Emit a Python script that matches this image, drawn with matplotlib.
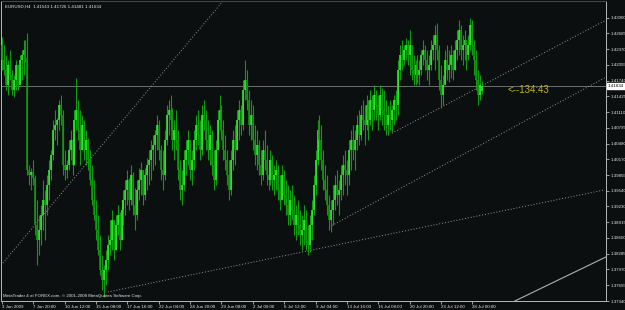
import matplotlib
matplotlib.use('Agg')
import matplotlib.pyplot as plt

plt.rcParams['font.family'] = ['Liberation Sans', 'DejaVu Sans']

# EURUSD H4 bars, prices in 1e-4 units (pips)
OPEN = [14245, 14215, 14195, 14165, 14205, 14185, 14155, 14175, 14205, 14165,
        14215, 14225, 14235, 14219, 13995, 13985, 13991, 13979, 13885, 13855,
        13875, 13905, 13935, 13925, 13965, 13995, 14025, 14075, 14085, 14095,
        14125, 14105, 14005, 13995, 14005, 14035, 14055, 14005, 14095, 14115,
        14075, 14035, 14085, 14035, 14055, 14015, 13975, 13935, 13905, 13875,
        13835, 13795, 13775, 13795, 13815, 13845, 13855, 13895, 13835, 13885,
        13905, 13855, 13915, 13935, 13955, 13975, 13935, 13985, 13925, 13905,
        13955, 13975, 13995, 13945, 13985, 14005, 14015, 14035, 14045, 14065,
        14085, 14035, 13995, 13985, 14055, 14105, 14115, 14095, 14055, 14075,
        14055, 13995, 13955, 13965, 14015, 14035, 14055, 13995, 14015, 14055,
        14085, 14065, 14035, 14105, 14095, 14055, 14035, 14065, 14005, 13975,
        14035, 14095, 14115, 14075, 14035, 14015, 13985, 13955, 14015, 14055,
        14035, 14095, 14115, 14085, 14155, 14175, 14135, 14085, 14105, 14055,
        14025, 14045, 14005, 13985, 14035, 14015, 13985, 13975, 14015, 13975,
        13985, 13995, 13955, 13935, 13985, 13945, 13925, 13905, 13935, 13915,
        13885, 13905, 13885, 13865, 13875, 13895, 13855, 13845, 13885, 13915,
        13965, 14015, 14075, 14055, 14015, 13975, 13955, 13925, 13895, 13915,
        13935, 13965, 13945, 13955, 13985, 14005, 13995, 13985, 14035, 14055,
        14035, 14055, 14085, 14065, 14105, 14095, 14085, 14125, 14095, 14135,
        14115, 14145, 14125, 14105, 14145, 14115, 14105, 14085, 14105, 14095,
        14115, 14135, 14125, 14195, 14225, 14215, 14235, 14245, 14225, 14245,
        14195, 14185, 14205, 14185, 14195, 14225, 14235, 14215, 14195, 14205,
        14235, 14245, 14265, 14235, 14175, 14145, 14165, 14215, 14195, 14205,
        14225, 14195, 14235, 14255, 14275, 14235, 14245, 14255, 14225, 14245,
        14285, 14245, 14215, 14175, 14145, 14154]
HIGH = [14261, 14245, 14225, 14215, 14235, 14195, 14185, 14215, 14205, 14225,
        14235, 14255, 14255, 14269, 14005, 13999, 14015, 13985, 13935, 13905,
        13925, 13975, 13955, 13985, 14015, 14035, 14095, 14115, 14099, 14135,
        14145, 14115, 14035, 14015, 14055, 14075, 14059, 14115, 14179, 14135,
        14115, 14105, 14095, 14075, 14059, 14035, 14005, 13975, 13935, 13905,
        13865, 13825, 13805, 13835, 13865, 13895, 13915, 13895, 13905, 13925,
        13911, 13935, 13955, 13975, 13995, 13979, 14005, 13991, 13959, 13975,
        13999, 14011, 13995, 13999, 14019, 14035, 14055, 14065, 14075, 14105,
        14095, 14045, 14035, 14075, 14125, 14135, 14145, 14119, 14095, 14115,
        14075, 14015, 13995, 14035, 14055, 14075, 14055, 14035, 14075, 14105,
        14115, 14095, 14125, 14135, 14115, 14095, 14085, 14075, 14035, 14055,
        14115, 14145, 14125, 14095, 14065, 14035, 14015, 14035, 14075, 14085,
        14115, 14135, 14125, 14175, 14215, 14195, 14155, 14135, 14125, 14085,
        14075, 14055, 14035, 14055, 14075, 14045, 14015, 14035, 14025, 14005,
        14015, 14005, 13985, 14005, 13995, 13975, 13965, 13955, 13965, 13945,
        13925, 13935, 13915, 13905, 13925, 13915, 13885, 13905, 13935, 13985,
        14035, 14095, 14105, 14085, 14035, 14005, 13985, 13945, 13935, 13965,
        13985, 13995, 13975, 14005, 14025, 14035, 14015, 14055, 14075, 14085,
        14075, 14105, 14115, 14125, 14135, 14125, 14145, 14135, 14155, 14145,
        14165, 14155, 14145, 14165, 14159, 14155, 14135, 14125, 14135, 14125,
        14145, 14155, 14215, 14245, 14255, 14245, 14259, 14255, 14275, 14245,
        14225, 14215, 14225, 14215, 14235, 14255, 14245, 14235, 14225, 14255,
        14265, 14285, 14289, 14245, 14205, 14185, 14235, 14245, 14235, 14245,
        14235, 14255, 14275, 14295, 14285, 14265, 14275, 14255, 14265, 14299,
        14295, 14255, 14235, 14195, 14185, 14173]
LOW = [14195, 14185, 14155, 14145, 14175, 14145, 14141, 14155, 14155, 14165,
       14175, 14185, 14211, 13985, 13965, 13955, 13965, 13865, 13805, 13825,
       13845, 13875, 13855, 13905, 13935, 13975, 14015, 14055, 14045, 14075,
       14085, 13985, 13975, 13979, 13995, 14015, 13985, 14005, 14075, 14055,
       14005, 14035, 14015, 14005, 13995, 13965, 13925, 13895, 13855, 13825,
       13785, 13755, 13741, 13765, 13795, 13825, 13835, 13815, 13835, 13865,
       13835, 13855, 13885, 13905, 13925, 13915, 13925, 13905, 13875, 13895,
       13935, 13945, 13925, 13935, 13955, 13965, 13975, 13995, 14005, 14035,
       14015, 13975, 13955, 13975, 14045, 14065, 14075, 14035, 14015, 14035,
       13975, 13935, 13925, 13955, 13985, 14005, 13975, 13965, 13995, 14035,
       14045, 14015, 14025, 14075, 14035, 14015, 14005, 13985, 13955, 13965,
       14035, 14075, 14055, 14015, 13995, 13965, 13935, 13945, 13995, 14005,
       14035, 14055, 14065, 14075, 14135, 14115, 14065, 14055, 14035, 14005,
       13995, 13985, 13965, 13975, 13995, 13965, 13955, 13965, 13955, 13945,
       13955, 13935, 13915, 13935, 13925, 13905, 13885, 13885, 13895, 13865,
       13855, 13865, 13845, 13835, 13845, 13835, 13825, 13831, 13855, 13905,
       13945, 14005, 14035, 13995, 13955, 13935, 13905, 13875, 13871, 13885,
       13915, 13925, 13905, 13935, 13945, 13965, 13945, 13965, 13995, 14015,
       13995, 14035, 14045, 14055, 14075, 14045, 14075, 14055, 14085, 14075,
       14095, 14095, 14075, 14095, 14085, 14075, 14065, 14065, 14075, 14071,
       14085, 14095, 14105, 14175, 14195, 14205, 14215, 14205, 14185, 14175,
       14165, 14165, 14169, 14165, 14185, 14205, 14195, 14175, 14165, 14195,
       14215, 14195, 14215, 14155, 14119, 14125, 14165, 14175, 14171, 14179,
       14175, 14195, 14215, 14225, 14215, 14205, 14215, 14195, 14215, 14235,
       14225, 14185, 14155, 14125, 14135, 14148]
CLOSE = [14215, 14195, 14165, 14205, 14185, 14155, 14175, 14205, 14165, 14215,
         14225, 14235, 14219, 13995, 13985, 13991, 13979, 13885, 13855, 13875,
         13905, 13935, 13925, 13965, 13995, 14025, 14075, 14085, 14095, 14125,
         14105, 14005, 13995, 14005, 14035, 14055, 14005, 14095, 14115, 14075,
         14035, 14085, 14035, 14055, 14015, 13975, 13935, 13905, 13875, 13835,
         13795, 13775, 13795, 13815, 13845, 13855, 13895, 13835, 13885, 13905,
         13855, 13915, 13935, 13955, 13975, 13935, 13985, 13925, 13905, 13955,
         13975, 13995, 13945, 13985, 14005, 14015, 14035, 14045, 14065, 14085,
         14035, 13995, 13985, 14055, 14105, 14115, 14095, 14055, 14075, 14055,
         13995, 13955, 13965, 14015, 14035, 14055, 13995, 14015, 14055, 14085,
         14065, 14035, 14105, 14095, 14055, 14035, 14065, 14005, 13975, 14035,
         14095, 14115, 14075, 14035, 14015, 13985, 13955, 14015, 14055, 14035,
         14095, 14115, 14085, 14155, 14175, 14135, 14085, 14105, 14055, 14025,
         14045, 14005, 13985, 14035, 14015, 13985, 13975, 14015, 13975, 13985,
         13995, 13955, 13935, 13985, 13945, 13925, 13905, 13935, 13915, 13885,
         13905, 13885, 13865, 13875, 13895, 13855, 13845, 13885, 13915, 13965,
         14015, 14075, 14055, 14015, 13975, 13955, 13925, 13895, 13915, 13935,
         13965, 13945, 13955, 13985, 14005, 13995, 13985, 14035, 14055, 14035,
         14055, 14085, 14065, 14105, 14095, 14085, 14125, 14095, 14135, 14115,
         14145, 14125, 14105, 14145, 14115, 14105, 14085, 14105, 14095, 14115,
         14135, 14125, 14195, 14225, 14215, 14235, 14245, 14225, 14245, 14195,
         14185, 14205, 14185, 14195, 14225, 14235, 14215, 14195, 14205, 14235,
         14245, 14265, 14235, 14175, 14145, 14165, 14215, 14195, 14205, 14225,
         14195, 14235, 14255, 14275, 14235, 14245, 14255, 14225, 14245, 14285,
         14245, 14215, 14175, 14145, 14165, 14163]

TIME_TICKS = [0, 16, 32, 48, 64, 80, 96, 112, 128, 144, 160, 176, 192, 208, 224, 240]
TIME_LABELS = ['3 Jun 2009', '7 Jun 20:00', '10 Jun 12:00', '15 Jun 08:00',
               '17 Jun 16:00', '22 Jun 04:00', '24 Jun 20:00', '29 Jun 08:00',
               '2 Jul 00:00', '6 Jul 12:00', '9 Jul 04:00', '13 Jul 16:00',
               '16 Jul 08:00', '20 Jul 20:00', '23 Jul 12:00', '28 Jul 00:00']
PRICE_TICKS = [1.43000, 1.42685, 1.42370, 1.42055, 1.41740, 1.41425, 1.41110,
               1.40795, 1.40480, 1.40170, 1.39855, 1.39540, 1.39230, 1.38915,
               1.38600, 1.38285, 1.37970, 1.37655, 1.37340]
BID = 1.41634
TITLE = 'EURUSD,H4  1.41543 1.41726 1.41481 1.41634'
TIMER = '<--134:43'
COPYRIGHT = 'MetaTrader 4 at FOREX.com, \u00a9 2001-2008 MetaQuotes Software Corp.'

# trendlines: (bar, price) pairs
DOTTED_LINES = [((0.5, 1.3810), (99.5, 1.4271)),
                ((54.0, 1.3752), (307.7, 1.3956)),
                ((167.0, 1.3882), (308.2, 1.4181)),
                ((199.0, 1.4069), (308.2, 1.4295))]
DOTTED_RAY = [False, True, True, True]
SOLID_LINE = ((261.7, 1.3734), (308.2, 1.3822))

BG = '#0b0f0f'
FRAME = '#b8b8b8'
TXT = '#e8e8e8'
BULL = '#33f233'
BEAR = '#109a10'
FS = 3.2

fig = plt.figure(figsize=(6.25, 3.1), dpi=100, facecolor=BG)
ax = fig.add_axes([1 / 625, 9 / 310, 605 / 625, 300 / 310], facecolor=BG)

x = list(range(len(CLOSE)))
o = [v / 1e4 for v in OPEN]
h = [v / 1e4 for v in HIGH]
l = [v / 1e4 for v in LOW]
c = [v / 1e4 for v in CLOSE]
cols = [BULL if cc >= oo else BEAR for oo, cc in zip(o, c)]
ax.vlines(x, l, h, colors=BEAR, linewidth=0.8, zorder=3)
ax.vlines(x, [min(a, b) for a, b in zip(o, c)], [max(a, b) for a, b in zip(o, c)],
          colors=cols, linewidth=1.15, zorder=4)

ax.axhline(BID, color='#6e6e6e', linewidth=0.7, zorder=2)

for (p0, p1), ray in zip(DOTTED_LINES, DOTTED_RAY):
    if ray:
        ax.plot([p0[0], p1[0]], [p0[1], p1[1]], color='#9a9a9a',
                linestyle=(0, (1, 2)), linewidth=0.7, zorder=2)
    else:
        ax.axline(p0, p1, color='#9a9a9a', linestyle=(0, (1, 2)), linewidth=0.7, zorder=2)
ax.plot([SOLID_LINE[0][0], SOLID_LINE[1][0]], [SOLID_LINE[0][1], SOLID_LINE[1][1]],
        color='#b0b0b0', linewidth=0.8, zorder=2)

ax.set_xlim(-0.5, 308.2)
ax.set_ylim(1.37340, 1.43330)

ax.yaxis.tick_right()
ax.set_yticks(PRICE_TICKS)
ax.set_yticklabels([f'{p:.5f}' for p in PRICE_TICKS], fontsize=FS, color=TXT)
ax.tick_params(axis='y', length=2, width=0.6, color=FRAME, pad=1)
ax.set_xticks(TIME_TICKS)
ax.set_xticklabels(TIME_LABELS, fontsize=FS, color=TXT, ha='left')
ax.tick_params(axis='x', length=2, width=0.6, color=FRAME, pad=0.8)
for s in ax.spines.values():
    s.set_color(FRAME)
    s.set_linewidth(0.7)
ax.spines['top'].set_color('#4a4a4a')

# current price marker on the scale
ax.text(1.003, BID, f'{BID:.5f}', transform=ax.get_yaxis_transform(), fontsize=FS,
        color='black', va='center', ha='left',
        bbox=dict(boxstyle='square,pad=0.25', facecolor='white', edgecolor='white'))

ax.text(258, BID - 0.0008, TIMER, fontsize=7, color='#c8b41e', va='center', ha='left')
ax.text(0.006, 0.988, TITLE, transform=ax.transAxes, fontsize=FS, color=TXT, va='top')
ax.text(0.004, 0.01, COPYRIGHT, transform=ax.transAxes, fontsize=FS, color=TXT, va='bottom')

fig.savefig('out.png', dpi=100, facecolor=BG)
